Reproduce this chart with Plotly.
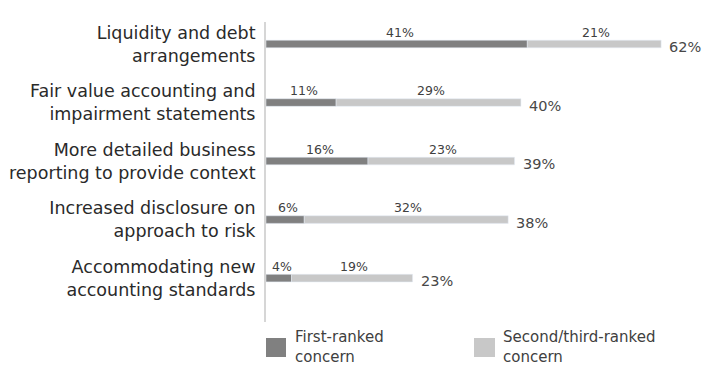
import plotly.graph_objects as go

categories = [
    "Liquidity and debt<br>arrangements",
    "Fair value accounting and<br>impairment statements",
    "More detailed business<br>reporting to provide context",
    "Increased disclosure on<br>approach to risk",
    "Accommodating new<br>accounting standards",
]
first_ranked = [41, 11, 16, 6, 4]
second_third = [21, 29, 23, 32, 19]
totals = [62, 40, 39, 38, 23]
series_names = ["First-ranked<br>concern", "Second/third-ranked<br>concern"]
colors = ["#808080", "#c8c8c8"]

ypos = list(range(len(categories)))

fig = go.Figure()
fig.add_trace(go.Bar(y=ypos, x=first_ranked, orientation="h", marker_color=colors[0],
                     width=0.13, showlegend=False, hoverinfo="skip"))
fig.add_trace(go.Bar(y=ypos, x=second_third, orientation="h", marker_color=colors[1],
                     width=0.13, base=first_ranked, showlegend=False, hoverinfo="skip"))

val_font = dict(family="DejaVu Sans", size=12.5, color="#404040")
tot_font = dict(family="DejaVu Sans", size=14.5, color="#484848")
for i in ypos:
    f, s, t = first_ranked[i], second_third[i], totals[i]
    fig.add_annotation(x=f / 2, y=i, text=f"{f}%", showarrow=False, yshift=12, xshift=3,
                       xanchor="center", yanchor="middle", font=val_font)
    fig.add_annotation(x=f + s / 2, y=i, text=f"{s}%", showarrow=False, yshift=12, xshift=2,
                       xanchor="center", yanchor="middle", font=val_font)
    fig.add_annotation(x=t, y=i, text=f"{t}%", showarrow=False, xshift=6, yshift=-3,
                       xanchor="left", yanchor="middle", font=tot_font)

# legend
W = 427.0
H = 300.0
def px(x):
    return (x - 266) / W
def py(y):
    return (322 - y) / H

fig.add_shape(type="rect", xref="paper", yref="paper", x0=px(266), x1=px(286),
              y0=py(357), y1=py(338), fillcolor=colors[0], line_width=0)
fig.add_shape(type="rect", xref="paper", yref="paper", x0=px(474), x1=px(495),
              y0=py(357), y1=py(338), fillcolor=colors[1], line_width=0)
leg_font = dict(family="DejaVu Sans", size=15, color="#404040")
fig.add_annotation(xref="paper", yref="paper", x=px(293), y=py(347), text=series_names[0],
                   showarrow=False, xanchor="left", yanchor="middle", align="left", font=leg_font)
fig.add_annotation(xref="paper", yref="paper", x=px(501), y=py(347), text=series_names[1],
                   showarrow=False, xanchor="left", yanchor="middle", align="left", font=leg_font)

fig.update_layout(
    width=703, height=365,
    margin=dict(l=266, r=10, t=22, b=43),
    barmode="overlay",
    plot_bgcolor="white", paper_bgcolor="white",
    xaxis=dict(range=[0, 67], showgrid=False, zeroline=False, showticklabels=False,
               showline=False),
    yaxis=dict(range=[4.75, -0.376], tickvals=ypos, ticktext=categories,
               showgrid=False, zeroline=False, showline=True, linecolor="#d6d6d6",
               linewidth=2, ticks="", ticklabelstandoff=5,
               tickfont=dict(family="DejaVu Sans", size=17.5, color="#2a2a2a")),
)

fig.write_html("out.html")
